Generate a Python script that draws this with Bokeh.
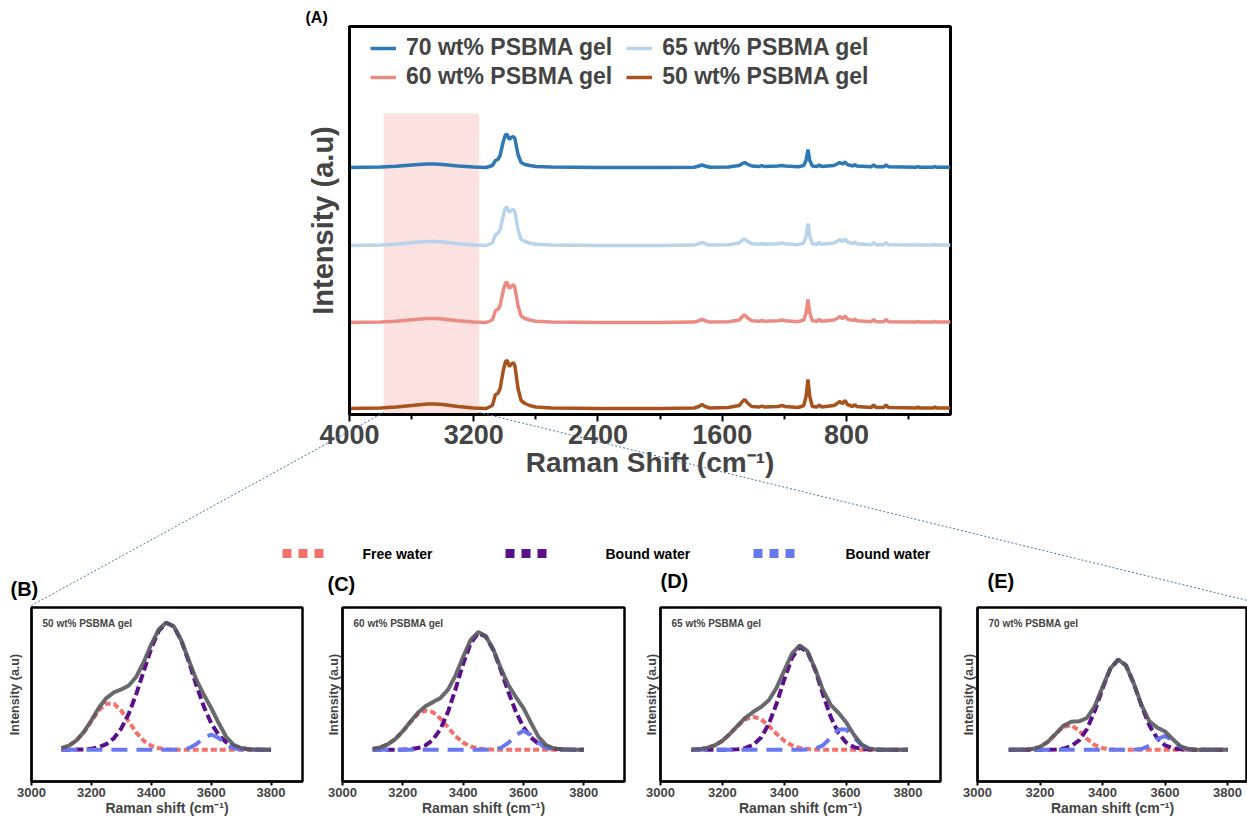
from bokeh.plotting import figure
from bokeh.layouts import column, row
from bokeh.models import Range1d, FixedTicker, Legend, LegendItem, Label
from bokeh.core.properties import value
from bokeh.embed import file_html
from bokeh.resources import INLINE

FONT = "Liberation Sans"

# ---------------- panel (A): Raman spectra ----------------
raman_shift = [4000, 3800, 3700, 3600, 3500, 3450, 3400, 3300, 3200, 3120,
               3080, 3060, 3045, 3030, 3010, 2995, 2985, 2970, 2960, 2945,
               2935, 2915, 2895, 2870, 2840, 2800, 2700, 2400, 2000, 1780,
               1750, 1730, 1710, 1680, 1560, 1490, 1470, 1455, 1440, 1410,
               1360, 1345, 1330, 1240, 1215, 1195, 1110, 1075, 1060, 1048,
               1036, 1020, 990, 975, 960, 880, 860, 845, 825, 808,
               795, 760, 745, 735, 640, 625, 610, 560, 545, 530,
               350, 340, 330, 240, 230, 220, 130]

int_70 = [0, 0.5, 1.2, 2.5, 3.5, 3.5, 3, 1.5, 0.5, 0,
          2, 7, 8, 12, 26, 33, 33, 28, 30, 31,
          29, 13, 5, 3, 2, 1, 0.5, 0, 0, 0.3,
          1.5, 2.5, 1.5, 0.3, 0.5, 2, 4, 5, 3.5, 1.5,
          1, 2, 1, 1.5, 2, 1.5, 0.8, 2, 7, 18,
          7, 1.5, 1, 2.5, 1, 2, 3.5, 5, 3.5, 5.5,
          3, 1.5, 3, 1.5, 0.8, 2.5, 0.8, 0.8, 2.5, 0.8,
          0.3, 1, 0.3, 0.3, 1, 0.3, 0.3]
int_65 = [0, 0.5, 1.3, 2.8, 4, 4, 3.5, 1.8, 0.5, 0,
          2.5, 11, 12, 16, 30, 38, 38, 33, 35, 36,
          34, 16, 6, 4, 2.5, 1.2, 0.5, 0, 0, 0.4,
          1.8, 3, 1.8, 0.4, 0.8, 2.5, 5.5, 6.5, 4.5, 1.8,
          1.2, 2.2, 1.2, 1.8, 2.5, 1.8, 0.8, 2.5, 9, 22,
          9, 1.8, 1.2, 3, 1.2, 2.5, 4, 6, 4, 6.5,
          3.5, 1.8, 3.5, 1.8, 0.8, 3, 0.8, 0.8, 3, 0.8,
          0.4, 1.2, 0.4, 0.4, 1.2, 0.4, 0.4]
int_60 = [0, 0.5, 1.3, 2.8, 4, 4, 3.5, 1.8, 0.5, 0,
          2.5, 12, 13, 17, 32, 40, 40, 34, 36, 38,
          35, 17, 6.5, 4, 2.5, 1.2, 0.5, 0, 0, 0.4,
          1.8, 3.2, 1.8, 0.4, 0.8, 2.5, 6, 7.5, 5, 1.8,
          1.2, 2.2, 1.2, 1.8, 2.5, 1.8, 0.8, 2.5, 9.5, 23,
          9.5, 1.8, 1.2, 3, 1.2, 2.5, 4, 6, 4, 6.5,
          3.5, 1.8, 3.5, 1.8, 0.8, 3, 0.8, 0.8, 3, 0.8,
          0.4, 1.2, 0.4, 0.4, 1.2, 0.4, 0.4]
int_50 = [0, 0.5, 1.5, 3, 4.5, 4.5, 4, 2, 0.5, 0,
          3, 14, 15, 20, 38, 47, 48, 42, 44, 46,
          43, 20, 8, 5, 3, 1.5, 0.5, 0, 0, 0.5,
          2, 4, 2, 0.5, 1, 3, 7, 9, 6, 2,
          1.5, 2.5, 1.5, 2, 3, 2, 1, 3, 12, 29,
          12, 2, 1.5, 3.5, 1.5, 3, 5, 7, 5, 8,
          4, 2, 4, 2, 1, 3.5, 1, 1, 3.5, 1,
          0.5, 1.5, 0.5, 0.5, 1.5, 0.5, 0.5]

series_labels = ["70 wt% PSBMA gel", "65 wt% PSBMA gel", "60 wt% PSBMA gel", "50 wt% PSBMA gel"]
series_values = [int_70, int_65, int_60, int_50]
stack_offsets = [247, 169, 92, 6]
series_colors = ["#2f78b6", "#b8d4ea", "#eb8b83", "#a8521d"]

water_band = [3780, 3165]      # shaded O-H stretching region
water_band_height = 301

# ---------------- panels (B)-(E): O-H band fits ----------------
wn = [3100, 3125, 3150, 3175, 3200, 3225, 3250, 3275, 3300, 3325,
      3350, 3375, 3400, 3425, 3450, 3475, 3500, 3525, 3550, 3575,
      3600, 3625, 3650, 3675, 3700, 3725, 3750, 3775, 3800]

free_B = [0.012, 0.032, 0.072, 0.138, 0.224, 0.31, 0.363, 0.362, 0.307, 0.221,
          0.135, 0.07, 0.031, 0.012, 0.004, 0.001, 0, 0, 0, 0,
          0, 0, 0, 0, 0, 0, 0, 0, 0]
boundA_B = [0, 0, 0.001, 0.003, 0.008, 0.02, 0.044, 0.09, 0.168, 0.285,
            0.44, 0.621, 0.799, 0.935, 0.998, 0.971, 0.86, 0.695, 0.511, 0.343,
            0.209, 0.117, 0.059, 0.027, 0.012, 0.004, 0.001, 0, 0]
boundB_B = [0, 0, 0, 0, 0, 0, 0, 0, 0, 0,
            0, 0, 0, 0, 0, 0, 0.002, 0.012, 0.043, 0.093,
            0.12, 0.093, 0.043, 0.012, 0.002, 0, 0, 0, 0]
total_B = [0.012, 0.032, 0.073, 0.141, 0.232, 0.33, 0.407, 0.452, 0.475, 0.506,
           0.575, 0.691, 0.83, 0.947, 1.002, 0.972, 0.862, 0.707, 0.554, 0.436,
           0.329, 0.21, 0.102, 0.039, 0.014, 0.004, 0.001, 0, 0]

free_C = [0.007, 0.018, 0.042, 0.084, 0.145, 0.217, 0.279, 0.309, 0.296, 0.244,
          0.174, 0.107, 0.056, 0.026, 0.01, 0.003, 0.001, 0, 0, 0,
          0, 0, 0, 0, 0, 0, 0, 0, 0]
boundA_C = [0, 0, 0, 0, 0.001, 0.004, 0.013, 0.034, 0.079, 0.164,
            0.299, 0.479, 0.676, 0.839, 0.917, 0.892, 0.786, 0.627, 0.455, 0.299,
            0.178, 0.096, 0.047, 0.021, 0.008, 0.003, 0.001, 0, 0]
boundB_C = [0, 0, 0, 0, 0, 0, 0, 0, 0, 0,
            0, 0, 0, 0, 0, 0, 0.003, 0.015, 0.054, 0.116,
            0.15, 0.116, 0.054, 0.015, 0.003, 0, 0, 0, 0]
total_C = [0.007, 0.018, 0.042, 0.084, 0.146, 0.221, 0.292, 0.343, 0.375, 0.408,
           0.473, 0.586, 0.732, 0.865, 0.927, 0.895, 0.79, 0.642, 0.509, 0.415,
           0.328, 0.212, 0.101, 0.036, 0.011, 0.003, 0.001, 0, 0]

free_D = [0.001, 0.005, 0.014, 0.034, 0.071, 0.125, 0.188, 0.24, 0.26, 0.24,
          0.188, 0.125, 0.071, 0.034, 0.014, 0.005, 0.001, 0, 0, 0,
          0, 0, 0, 0, 0, 0, 0, 0, 0]
boundA_D = [0, 0, 0, 0, 0, 0.001, 0.004, 0.014, 0.039, 0.096,
            0.202, 0.362, 0.553, 0.723, 0.808, 0.77, 0.628, 0.437, 0.26, 0.132,
            0.057, 0.021, 0.007, 0.002, 0, 0, 0, 0, 0]
boundB_D = [0, 0, 0, 0, 0, 0, 0, 0, 0, 0,
            0, 0, 0, 0, 0, 0.001, 0.007, 0.034, 0.094, 0.159,
            0.16, 0.097, 0.035, 0.008, 0.001, 0, 0, 0, 0]
total_D = [0.001, 0.005, 0.014, 0.034, 0.071, 0.126, 0.192, 0.254, 0.299, 0.336,
           0.39, 0.487, 0.624, 0.757, 0.822, 0.776, 0.636, 0.471, 0.354, 0.291,
           0.217, 0.118, 0.042, 0.01, 0.001, 0, 0, 0, 0]

free_E = [0, 0, 0.001, 0.006, 0.023, 0.062, 0.123, 0.18, 0.193, 0.151,
          0.087, 0.037, 0.012, 0.003, 0, 0, 0, 0, 0, 0,
          0, 0, 0, 0, 0, 0, 0, 0, 0]
boundA_E = [0, 0, 0, 0, 0, 0, 0.002, 0.009, 0.028, 0.073,
            0.163, 0.305, 0.481, 0.637, 0.709, 0.664, 0.522, 0.345, 0.192, 0.09,
            0.035, 0.012, 0.003, 0.001, 0, 0, 0, 0, 0]
boundB_E = [0, 0, 0, 0, 0, 0, 0, 0, 0, 0,
            0, 0, 0, 0, 0, 0, 0.001, 0.006, 0.032, 0.084,
            0.109, 0.071, 0.023, 0.004, 0, 0, 0, 0, 0]
total_E = [0, 0, 0.001, 0.006, 0.023, 0.062, 0.125, 0.189, 0.221, 0.224,
           0.25, 0.342, 0.493, 0.64, 0.709, 0.664, 0.523, 0.351, 0.224, 0.174,
           0.144, 0.083, 0.026, 0.005, 0, 0, 0, 0, 0]

component_labels = ["Free water", "Bound water", "Bound water"]
component_colors = ["#f2716b", "#5b0f8a", "#6878ee"]
total_color = "#595960"

panel_tags = ["(B)", "(C)", "(D)", "(E)"]
panel_names = ["50 wt% PSBMA gel", "60 wt% PSBMA gel", "65 wt% PSBMA gel", "70 wt% PSBMA gel"]
panel_data = [(free_B, boundA_B, boundB_B, total_B),
              (free_C, boundA_C, boundB_C, total_C),
              (free_D, boundA_D, boundB_D, total_D),
              (free_E, boundA_E, boundB_E, total_E)]

main_ticks = [4000, 3200, 2400, 1600, 800]
main_minor = [3600, 2800, 2000, 1200, 400]
sub_ticks = [3000, 3200, 3400, 3600, 3800]

# ---------------- page geometry (pixels) ----------------
PAGE_W, PAGE_H = 1247, 821
MAIN_L, MAIN_T, MAIN_W, MAIN_H = 349, 26, 601, 388
TOP_H = 603
X0, X1 = 4000, 130
BOT_T, FH = 607, 174
# (frame left, frame width, border left, border right, x max, ytitle standoff)
sub_geom = [(31, 271, 31, 18, 3905, 10),
            (342, 282, 22, 14, 3935, 2),
            (660, 280, 22, 15, 3905, 2),
            (977, 270, 22, 0, 3864, 2)]

# =====================================================================
top = figure(frame_width=MAIN_W, frame_height=MAIN_H,
             min_border_left=MAIN_L, min_border_right=PAGE_W - MAIN_L - MAIN_W,
             min_border_top=MAIN_T, min_border_bottom=TOP_H - MAIN_T - MAIN_H,
             x_range=Range1d(X0, X1), y_range=Range1d(0, MAIN_H),
             output_backend="svg", toolbar_location=None)
top.xgrid.visible = False
top.ygrid.visible = False
top.outline_line_color = "black"
top.outline_line_width = 3
top.outline_line_alpha = 1

top.quad(left=[water_band[0]], right=[water_band[1]], bottom=[0], top=[water_band_height],
         fill_color="#f9cdca", fill_alpha=0.6, line_alpha=0, level="underlay")

renderers = []
for vals, off, col in zip(series_values, stack_offsets, series_colors):
    r = top.line(raman_shift, [v + off for v in vals], line_color=col, line_width=3.5)
    renderers.append(r)

xa = top.xaxis[0]
xa.ticker = FixedTicker(ticks=main_ticks, minor_ticks=main_minor)
xa.axis_label = "Raman Shift (cm\u207b\u00b9)"
xa.axis_label_text_font = FONT
xa.axis_label_text_font_style = "bold"
xa.axis_label_text_font_size = "28px"
xa.axis_label_standoff = 0
xa.major_label_text_font = FONT
xa.major_label_text_font_style = "bold"
xa.major_label_text_font_size = "27px"
xa.major_label_standoff = 3
xa.axis_line_width = 3
xa.major_tick_line_width = 2
xa.major_tick_out = 7
xa.major_tick_in = 0
xa.minor_tick_line_width = 2
xa.minor_tick_out = 5
xa.minor_tick_in = 0

ya = top.yaxis[0]
ya.ticker = FixedTicker(ticks=[])
ya.axis_label = "Intensity (a.u)"
ya.axis_label_text_font = FONT
ya.axis_label_text_font_style = "bold"
ya.axis_label_text_font_size = "29px"
ya.axis_label_standoff = 11
ya.major_label_text_font_size = "0px"
ya.major_label_standoff = 0
ya.major_tick_out = 0
ya.axis_line_width = 3

leg_style = dict(orientation="horizontal", glyph_width=26, glyph_height=24, label_height=24,
                 label_standoff=10, spacing=14, padding=0, margin=0,
                 border_line_alpha=0, background_fill_alpha=0,
                 label_text_font=FONT, label_text_font_style="bold", label_text_font_size="23px")
top.add_layout(Legend(items=[LegendItem(label=series_labels[0], renderers=[renderers[0]]),
                             LegendItem(label=series_labels[1], renderers=[renderers[1]])],
                      location=(21, 353), **leg_style))
top.add_layout(Legend(items=[LegendItem(label=series_labels[2], renderers=[renderers[2]]),
                             LegendItem(label=series_labels[3], renderers=[renderers[3]])],
                      location=(21, 324), **leg_style))

# =====================================================================
comp_dash = ["6 3", "9 4", "16 9"]
panels = []
for (free, ba, bb, tot), name, (fl, fw, bl, br, xmax, yso) in zip(panel_data, panel_names, sub_geom):
    p = figure(frame_width=fw, frame_height=FH, min_border_left=bl, min_border_right=br,
               min_border_top=BOT_T - TOP_H, min_border_bottom=PAGE_H - BOT_T - FH - 2,
               x_range=Range1d(3000, xmax), y_range=Range1d(-0.25, 1.12),
               output_backend="svg", toolbar_location=None)
    p.xgrid.visible = False
    p.ygrid.visible = False
    p.outline_line_color = "black"
    p.outline_line_width = 2.5
    p.outline_line_alpha = 1
    for vals, col, dash in zip((free, ba, bb), component_colors, comp_dash):
        p.line(wn, vals, line_color=col, line_width=4, line_dash=dash)
    p.line(wn, tot, line_color=total_color, line_width=4, line_alpha=0.9)

    ax = p.xaxis[0]
    ax.ticker = FixedTicker(ticks=sub_ticks, minor_ticks=[])
    ax.axis_label = "Raman shift (cm\u207b\u00b9)"
    ax.axis_label_text_font = FONT
    ax.axis_label_text_font_style = "bold"
    ax.axis_label_text_font_size = "14px"
    ax.axis_label_standoff = 0
    ax.major_label_text_font = FONT
    ax.major_label_text_font_style = "bold"
    ax.major_label_text_font_size = "13px"
    ax.major_label_standoff = 2
    ax.axis_line_width = 2
    ax.major_tick_line_width = 2
    ax.major_tick_out = 4
    ax.major_tick_in = 0

    ay = p.yaxis[0]
    ay.ticker = FixedTicker(ticks=[])
    ay.axis_label = "Intensity (a.u)"
    ay.axis_label_text_font = FONT
    ay.axis_label_text_font_style = "bold"
    ay.axis_label_text_font_size = "12.5px"
    ay.axis_label_standoff = yso
    ay.major_label_text_font_size = "0px"
    ay.major_label_standoff = 0
    ay.major_tick_out = 0
    ay.axis_line_width = 2

    p.add_layout(Label(x=11, y=FH - 16, x_units="screen", y_units="screen", text=name,
                       text_font=FONT, text_font_style="bold", text_font_size="10px",
                       text_baseline="middle", text_align="left"))
    panels.append(p)

# =====================================================================
# transparent overlay: panel tags, zoom guide lines, legend of fitted components
ov = figure(width=PAGE_W, height=PAGE_H, x_range=Range1d(0, PAGE_W), y_range=Range1d(PAGE_H, 0),
            x_axis_location=None, y_axis_location=None, min_border=0,
            output_backend="svg", toolbar_location=None)
ov.xgrid.visible = False
ov.ygrid.visible = False
ov.outline_line_alpha = 0
ov.background_fill_alpha = 0
ov.border_fill_alpha = 0


def main_px(w):
    return MAIN_L + (X0 - w) / (X0 - X1) * MAIN_W


axis_y = MAIN_T + MAIN_H
ov.line([main_px(water_band[0]), sub_geom[0][0]], [axis_y, BOT_T],
        line_color="#4f73a8", line_width=1, line_dash="2 2")
ov.line([main_px(water_band[1]), PAGE_W], [axis_y, BOT_T - 5],
        line_color="#4f73a8", line_width=1, line_dash="2 2")

ov.text(x=[305], y=[19], text=["(A)"], text_font=value(FONT),
        text_font_style="bold", text_font_size="16px", text_baseline="middle", text_align="left")
ov.text(x=[10, 327, 660, 987], y=[590, 585, 582, 582], text=panel_tags, text_font=value(FONT),
        text_font_style="bold", text_font_size="20px", text_baseline="middle", text_align="left")

# legend of the fitted components (three dashed square samples + labels)
LEG_Y = 555
sample_left = [282, 505, 753]
label_left = [362, 605, 845]
for lab, col, sx, tx in zip(component_labels, component_colors, sample_left, label_left):
    ov.line([sx, sx + 41], [LEG_Y, LEG_Y], line_color=col, line_width=9, line_dash="9 7",
            line_cap="butt")
    ov.text(x=[tx], y=[LEG_Y], text=[lab], text_font=value(FONT), text_font_style="bold",
            text_font_size="14px", text_baseline="middle", text_align="left")

layout = column(top, row(*panels), row(ov, margin=(-PAGE_H, 0, 0, 0)))
open("out.html", "w").write(file_html(layout, INLINE))
